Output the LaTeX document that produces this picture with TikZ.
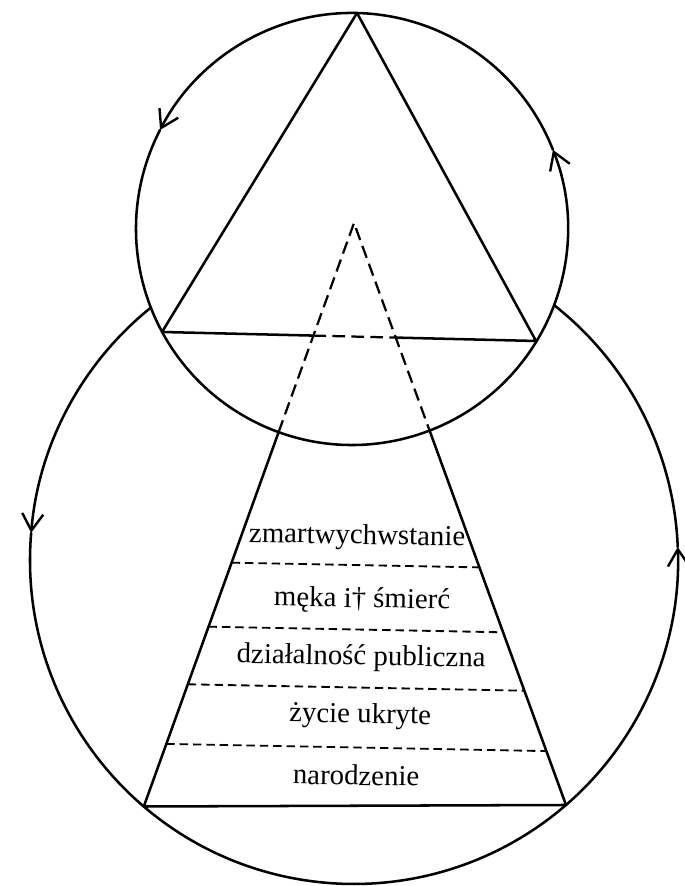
\documentclass[tikz,border=0pt]{standalone}
\usepackage{fontspec}
\setmainfont{Liberation Serif}
\usetikzlibrary{arrows.meta}
\begin{document}
\begin{tikzpicture}[x=0.025cm,y=0.025cm,
  line/.style={line width=1.8pt, line cap=round, line join=round},
  dashline/.style={line width=1.3pt, dash pattern=on 6pt off 3.5pt},
  dashtri/.style={line width=1.6pt, dash pattern=on 9pt off 4.5pt},
  arr/.style={line, -{Straight Barb[length=12pt,width=15pt,line width=1.7pt]}},
  lbl/.style={font=\fontsize{20.5}{24}\selectfont, anchor=base, inner sep=0pt, rotate=-1}]
\useasboundingbox (0,0) rectangle (684,886);
\fill[white] (0,0) rectangle (684,886);
% key points
\coordinate (C1) at (352,657);
\coordinate (C2) at (354,326);
\coordinate (T) at (357,873);
\coordinate (TBL) at (162,554);
\coordinate (TBR) at (536,545);
\coordinate (B1) at (313.4,550.4);
\coordinate (B2) at (395.9,548.4);
\coordinate (D) at (354,663);
\coordinate (SL) at (278.6,453.8);
\coordinate (SR) at (429.6,455.4);
\coordinate (BL) at (143.8,79.5);
\coordinate (BR) at (566,81);
\coordinate (a1) at (231.6,323.3); \coordinate (b1) at (479.4,318.6);
\coordinate (a2) at (208.5,259.3); \coordinate (b2) at (503.0,253.7);
\coordinate (a3) at (187.8,201.7); \coordinate (b3) at (524.3,195.3);
\coordinate (a4) at (166.3,142.1); \coordinate (b4) at (546.3,134.9);
% upper circle
\draw[arr] (C1) ++(21.5:216) arc[start angle=21.5, end angle=152.7, radius=216];
\draw[arr] (C1) ++(152.7:216) arc[start angle=152.7, end angle=381.5, radius=216];
% lower circle (outside the upper one)
\draw[arr] (C2) ++(128.83:324) arc[start angle=128.83, end angle=175.2, radius=324];
\draw[arr] (C2) ++(175.2:324) arc[start angle=175.2, end angle=362.3, radius=324];
\draw[line] (C2) ++(362.3:324) arc[start angle=362.3, end angle=411.84, radius=324];
% upper triangle
\draw[line] (B1) -- (TBL) -- (T) -- (TBR) -- (B2);
\draw[dashtri] (B1) -- (B2);
% dashed apex of the lower triangle
\draw[dashtri] (SL) -- (D) -- (SR);
% trapezoid
\draw[line] (SL) -- (BL) -- (BR) -- (SR);
\draw[dashline] (a1) -- (b1);
\draw[dashline] (a2) -- (b2);
\draw[dashline] (a3) -- (b3);
\draw[dashline] (a4) -- (b4);
% labels
\node[lbl] (t1) at (357,342) {zmartwychwstanie};
\node[lbl] (t2) at (362,278.5) {męka i† śmierć};
\node[lbl] (t3) at (361,221) {działalność publiczna};
\node[lbl] (t4) at (360,163) {życie ukryte};
\node[lbl] (t5) at (356,101) {narodzenie};
\end{tikzpicture}
\end{document}
